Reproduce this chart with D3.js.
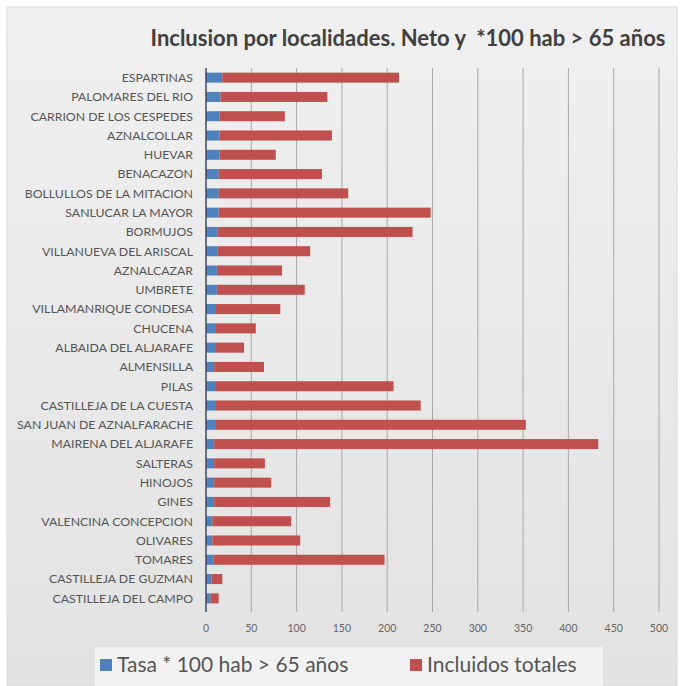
<!DOCTYPE html>
<html>
<head>
<meta charset="utf-8">
<script src="https://cdn.jsdelivr.net/npm/d3@7"></script>
<style>
  body { margin: 0; background: #fff; }
  svg { display: block; }
</style>
</head>
<body>
<svg id="chart" width="684" height="686"></svg>
<script>
// municipios, de arriba a abajo
const localidades = [
    'ESPARTINAS', 'PALOMARES DEL RIO', 'CARRION DE LOS CESPEDES', 'AZNALCOLLAR',
    'HUEVAR', 'BENACAZON', 'BOLLULLOS DE LA MITACION', 'SANLUCAR LA MAYOR',
    'BORMUJOS', 'VILLANUEVA DEL ARISCAL', 'AZNALCAZAR', 'UMBRETE',
    'VILLAMANRIQUE CONDESA', 'CHUCENA', 'ALBAIDA DEL ALJARAFE', 'ALMENSILLA',
    'PILAS', 'CASTILLEJA DE LA CUESTA', 'SAN JUAN DE AZNALFARACHE', 'MAIRENA DEL ALJARAFE',
    'SALTERAS', 'HINOJOS', 'GINES', 'VALENCINA CONCEPCION',
    'OLIVARES', 'TOMARES', 'CASTILLEJA DE GUZMAN', 'CASTILLEJA DEL CAMPO'
];

const tasa = [18, 16, 15, 15, 15, 14, 14, 14, 13, 13, 12, 12, 11, 10,
              10, 9, 10, 10, 10, 9, 9, 9, 9, 7, 7, 8, 6, 5];

const incluidos = [195, 118, 72, 124, 62, 114, 143, 234, 215, 102, 72, 97, 71, 45,
                   32, 55, 197, 227, 343, 424, 56, 63, 128, 87, 97, 189, 12, 9];

const ticks = [0, 50, 100, 150, 200, 250, 300, 350, 400, 450, 500];

const series = [
    {key: 'tasa', name: 'Tasa * 100 hab > 65 años', color: '#4f81bd'},
    {key: 'incluidos', name: 'Incluidos totales', color: '#c0504d'}
];

const rows = localidades.map((name, i) => ({name: name, tasa: tasa[i], incluidos: incluidos[i]}));

const svg = d3.select('#chart');
const font = 'Lato, "Open Sans", sans-serif';

// fondo del grafico
const grad = svg.append('defs').append('linearGradient')
    .attr('id', 'bg').attr('x1', 0).attr('y1', 0).attr('x2', 0).attr('y2', 1);
grad.append('stop').attr('offset', '0%').attr('stop-color', '#f0f0f0');
grad.append('stop').attr('offset', '100%').attr('stop-color', '#e2e2e2');

svg.append('rect').attr('x', 7).attr('y', 7).attr('width', 670).attr('height', 679)
    .attr('fill', 'url(#bg)').attr('stroke', '#d8d8d8');

var margin = {left: 206, top: 68, right: 660, bottom: 608};

var x = d3.scaleLinear().domain([0, 500]).range([margin.left, 659]);
var y = d3.scaleBand().domain(localidades).range([margin.top, margin.bottom]).paddingInner(0.48).paddingOuter(0.24);

// lineas de rejilla
svg.append('g').selectAll('line').data(ticks.slice(1)).join('line')
    .attr('x1', (d) => x(d)).attr('x2', (d) => x(d))
    .attr('y1', margin.top).attr('y2', margin.bottom + 4)
    .attr('stroke', '#a8a8a8').attr('stroke-width', 1);

// barras apiladas
var stack = d3.stack().keys(series.map((s) => s.key));
var stacked = stack(rows);

svg.append('g').selectAll('g').data(stacked).join('g')
    .attr('fill', (d, i) => series[i].color)
    .selectAll('rect').data((d) => d).join('rect')
    .attr('x', (d) => x(d[0]))
    .attr('width', (d) => x(d[1]) - x(d[0]))
    .attr('y', (d) => y(d.data.name))
    .attr('height', y.bandwidth());

// eje vertical
svg.append('line')
    .attr('x1', x(0)).attr('x2', x(0))
    .attr('y1', margin.top).attr('y2', margin.bottom + 4)
    .attr('stroke', '#3d4a63').attr('stroke-width', 1.5);

// etiquetas de categorias
svg.append('g').selectAll('text').data(localidades).join('text')
    .attr('x', 193)
    .attr('y', (d) => y(d) + y.bandwidth() / 2)
    .attr('dy', '0.35em')
    .attr('text-anchor', 'end')
    .attr('font-family', font)
    .attr('font-size', 12.3)
    .attr('fill', '#555')
    .text((d) => d);

// etiquetas del eje x
svg.append('g').selectAll('text').data(ticks).join('text')
    .attr('x', (d) => x(d))
    .attr('y', 628)
    .attr('dy', '0.35em')
    .attr('text-anchor', 'middle')
    .attr('font-family', font)
    .attr('font-size', 10.5)
    .attr('fill', '#666')
    .text((d) => d);

// titulo
svg.append('text')
    .attr('x', 408).attr('y', 46)
    .attr('text-anchor', 'middle')
    .attr('font-family', font)
    .attr('font-weight', 'bold')
    .attr('font-size', 22)
    .attr('fill', '#404040')
    .style('white-space', 'pre')
    .text('Inclusion por localidades. Neto y  *100 hab > 65 años');

// leyenda
svg.append('rect').attr('x', 95).attr('y', 647).attr('width', 508).attr('height', 39)
    .attr('fill', '#f2f2f2');

var legendX = [100, 410];
var lg = svg.append('g').selectAll('g').data(series).join('g')
    .attr('transform', (d, i) => `translate(${legendX[i]},665)`);
lg.append('rect').attr('x', 0).attr('y', -6).attr('width', 12).attr('height', 12)
    .attr('fill', (d) => d.color);
lg.append('text').attr('x', 17).attr('dy', '0.35em')
    .attr('font-family', font).attr('font-size', 21).attr('fill', '#555')
    .text((d) => d.name);
</script>
</body>
</html>
